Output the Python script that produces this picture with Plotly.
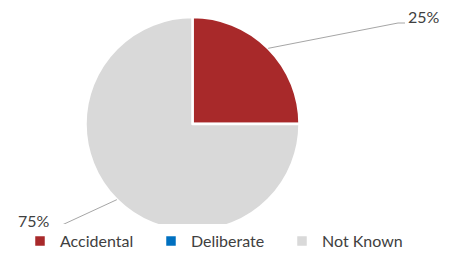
import math
import plotly.graph_objects as go

categories = ["Accidental", "Deliberate", "Not Known"]
values = [25, 0, 75]
colors = ["#A8292A", "#0070C0", "#D9D9D9"]

# figure is offset 8px by the page's body margin
W, H = 449, 247
cx, cy, r = 184.5, 116, 107

fig = go.Figure(go.Pie(
    labels=categories, values=values, sort=False, direction="clockwise",
    rotation=0, marker=dict(colors=colors, line=dict(color="white", width=2.5)),
    textinfo="none", hoverinfo="label+percent",
    domain=dict(x=[(cx - r) / W, (cx + r) / W], y=[1 - (cy + r) / H, 1 - (cy - r) / H]),
))

total = sum(values)
shapes, annots = [], []
# label centre (x, y), bend point (x, y), end of short horizontal tail x
label_pos = {0: (416, 8, 390, 15, 397), 2: (26, 212, 54, 217, 44)}
cum = 0
for i, v in enumerate(values):
    if v > 0 and i in label_pos:
        mid = math.radians(90 - (cum + v / 2) / total * 360)
        sx, sy = cx + r * math.cos(mid), cy - r * math.sin(mid)
        tx, ty, bx, by, ex = label_pos[i]
        path = f"M {sx/W} {1-sy/H} L {bx/W} {1-by/H} L {ex/W} {1-by/H}"
        shapes.append(dict(type="path", xref="paper", yref="paper", path=path,
                           line=dict(color="#A6A6A6", width=1)))
        annots.append(dict(x=tx / W, y=1 - ty / H, xref="paper", yref="paper",
                           xanchor="center", yanchor="middle", height=16, borderpad=0,
                           text=f"{round(v / total * 100)}%", showarrow=False,
                           font=dict(size=16, color="#404040", family="Lato")))
    cum += v

fig.update_layout(
    width=W, height=H, margin=dict(l=0, r=0, t=0, b=0, autoexpand=False),
    paper_bgcolor="white", plot_bgcolor="white",
    shapes=shapes, annotations=annots,
    showlegend=True,
    legend=dict(orientation="h", x=12 / W, y=1 - 233 / H, xanchor="left", yanchor="middle",
                font=dict(size=16, color="#404040", family="Lato"),
                entrywidth=86, entrywidthmode="pixels", traceorder="normal"),
)
fig.write_html("out.html")
